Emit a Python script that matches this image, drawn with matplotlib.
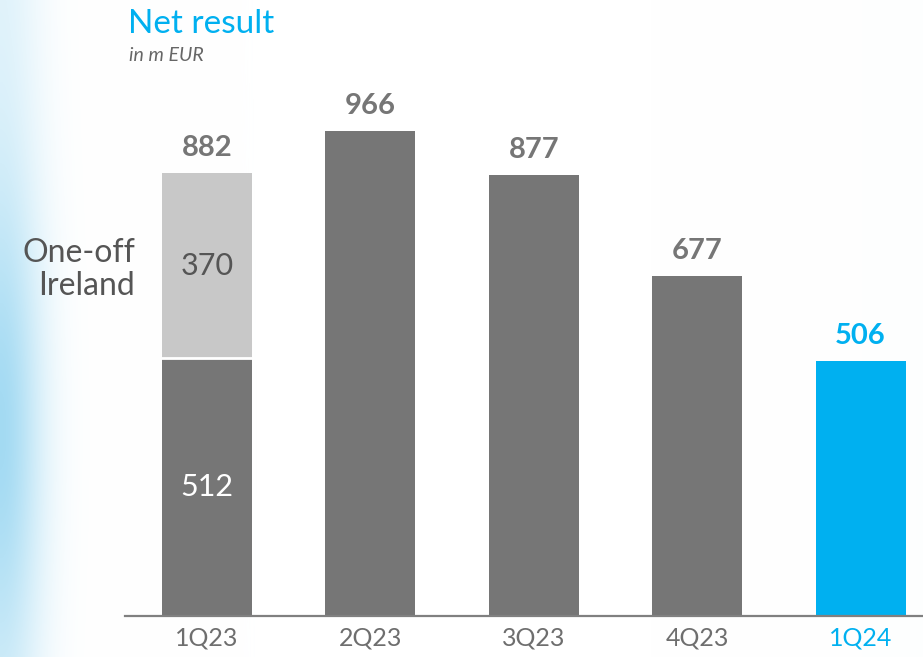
import numpy as np
import matplotlib.pyplot as plt

# --- data ---
quarters = ['1Q23', '2Q23', '3Q23', '4Q23', '1Q24']
base_values = [512, 966, 877, 677, 506]
one_off = [370, 0, 0, 0, 0]
totals = [882, 966, 877, 677, 506]

GRAY = '#767676'
LIGHT = '#c8c8c8'
CYAN = '#00b0f0'
bar_colors = [GRAY, GRAY, GRAY, GRAY, CYAN]

W, H = 923, 657
fig = plt.figure(figsize=(W / 100, H / 100), dpi=100)
plt.rcParams['font.family'] = ['Lato', 'DejaVu Sans']

# --- background glow (left blue, right slight tint) ---
bg = fig.add_axes([0, 0, 1, 1])
xx, yy = np.meshgrid(np.arange(W), np.arange(H))
strength = 0.25 + 0.55 * np.exp(-((yy - 430) / 230.0) ** 2)
glow = strength * np.exp(-(xx / 42.0) ** 2)
tint = 0.05 * np.clip((xx - 650) / 270.0, 0, 1)
img = np.ones((H, W, 3))
blue = np.array([0.55, 0.82, 0.94])
tint_col = np.array([0.90, 0.93, 0.95])
for c in range(3):
    img[..., c] = img[..., c] * (1 - tint) + tint_col[c] * tint
    img[..., c] = img[..., c] * (1 - glow) + blue[c] * glow
bg.imshow(img, aspect='auto', extent=[0, W, H, 0])
bg.set_axis_off()

# --- main axes (pixel-matched) ---
x0, x1 = 125, 923
y_base, y_top = 615.5, 80
ax = fig.add_axes([x0 / W, (H - y_base) / H, (x1 - x0) / W, (y_base - y_top) / H])
ax.patch.set_alpha(0)
px_per_unit = 0.502
ax.set_ylim(0, (y_base - y_top) / px_per_unit)
ax.set_xlim(-0.502, 4.382)

x = np.arange(len(quarters))
ax.bar(x, base_values, width=0.55, color=bar_colors, zorder=2)
ax.bar(x[:1], one_off[:1], bottom=base_values[:1], width=0.55, color=LIGHT,
       linewidth=0, zorder=2)
ax.plot([-0.275, 0.275], [base_values[0], base_values[0]], color='white', lw=2, zorder=3)

for i, t in enumerate(totals):
    col = CYAN if i == len(totals) - 1 else GRAY
    ax.text(x[i], t + 24, str(t), ha='center', va='bottom', fontsize=21,
            fontweight='bold', color=col)

ax.text(x[0], base_values[0] + one_off[0] / 2, str(one_off[0]), ha='center', va='center',
        fontsize=22, color='#555555')
ax.text(x[0], base_values[0] / 2, str(base_values[0]), ha='center', va='center',
        fontsize=22, color='white')
ax.text(-0.44, base_values[0] + one_off[0] / 2 - 8, 'One-off\nIreland', ha='right', va='center',
        fontsize=23, color='#555555', linespacing=1.15)

for s in ['top', 'right', 'left']:
    ax.spines[s].set_visible(False)
ax.spines['bottom'].set_color('#808080')
ax.spines['bottom'].set_linewidth(1.6)
ax.set_yticks([])
ax.set_xticks(x)
ax.set_xticklabels(quarters, fontsize=18)
ax.tick_params(axis='x', length=0, pad=8)
for lbl, col in zip(ax.get_xticklabels(), bar_colors):
    lbl.set_color('#6e6e6e' if col == GRAY else CYAN)

fig.text(128 / W, 1 - 33 / H, 'Net result', fontsize=24, color=CYAN, ha='left', va='baseline')
fig.text(129 / W, 1 - 61 / H, 'in m EUR', fontsize=14, color='#666666', style='italic',
         ha='left', va='baseline')

fig.savefig('out.png', dpi=100)
